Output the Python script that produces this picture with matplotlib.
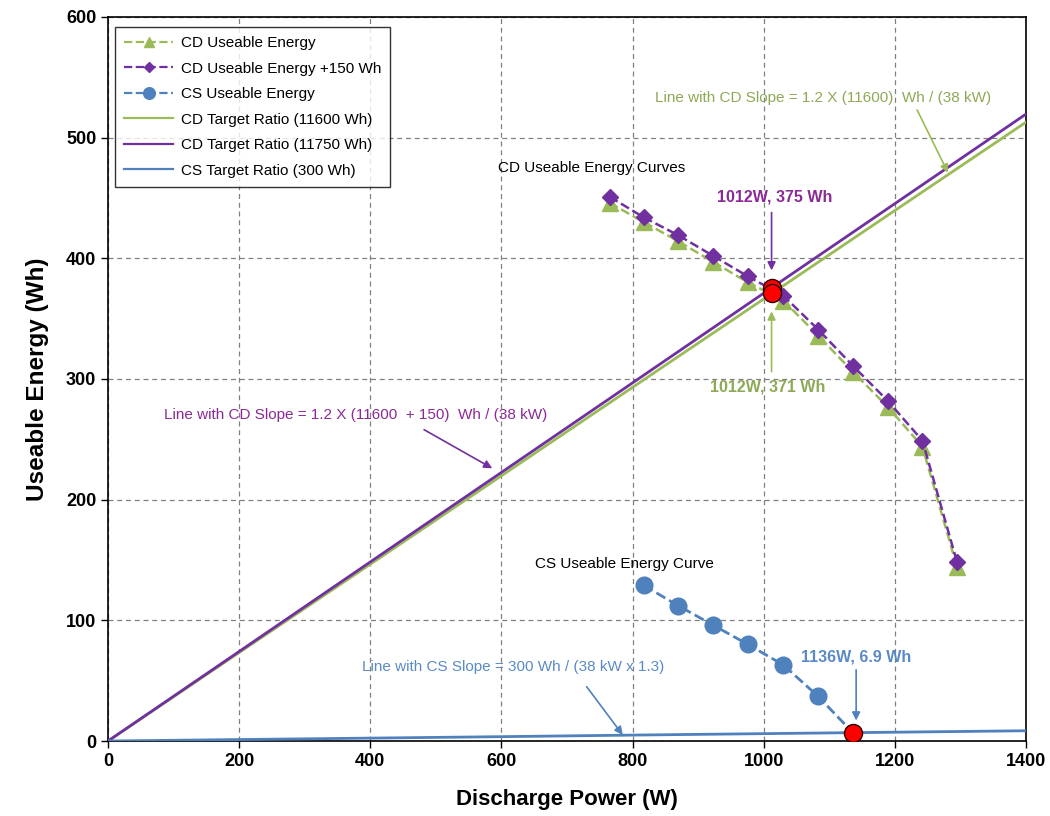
import matplotlib
matplotlib.use("Agg")
import matplotlib.pyplot as plt

plt.rcParams['font.family'] = ['Liberation Sans', 'DejaVu Sans']

# Discharge power sweep (W)
cd_power = [765, 817, 870, 923, 976, 1030, 1083, 1136, 1189, 1242, 1295]
cd_energy = [446, 430, 414, 397, 380, 365, 336, 306, 277, 244, 144]
cd_energy_plus = [451, 434, 419, 402, 385, 369, 341, 311, 282, 249, 148]

cs_power = [817, 870, 923, 976, 1030, 1083, 1136]
cs_energy = [129, 112, 96, 80, 63, 37, 6.9]

# Target-ratio lines
target_power = [0, 200, 400, 600, 800, 1000, 1200, 1400]
cd_target = [0, 73.3, 146.5, 219.8, 293.1, 366.3, 439.6, 512.8]
cd_target_plus = [0, 74.2, 148.4, 222.6, 296.8, 371.1, 445.3, 519.5]
cs_target = [0, 1.2, 2.4, 3.6, 4.9, 6.1, 7.3, 8.5]

# Crossing points
cross_power = [1012, 1012, 1136]
cross_energy = [375, 371, 6.9]

GREEN = '#9BBB59'
PURPLE = '#7030A0'
BLUE = '#4F81BD'
GREEN_TXT = '#8EA955'
PURPLE_TXT = '#8B2A96'
BLUE_TXT = '#5A8AC6'

fig = plt.figure(figsize=(10.5, 8.16), dpi=100)
ax = fig.add_axes([0.1029, 0.0919, 0.8742, 0.8873])

ax.plot(cd_power, cd_energy, ls='--', color=GREEN, lw=1.8, marker='^',
        ms=11, mfc=GREEN, mec=GREEN, label='CD Useable Energy', zorder=4)
ax.plot(cd_power, cd_energy_plus, ls='--', color=PURPLE, lw=1.8, marker='D',
        ms=8, mfc=PURPLE, mec=PURPLE, label='CD Useable Energy +150 Wh', zorder=5)
ax.plot(cs_power, cs_energy, ls='--', color=BLUE, lw=2, marker='o',
        ms=12, mfc=BLUE, mec=BLUE, label='CS Useable Energy', zorder=4)
ax.plot(target_power, cd_target, color=GREEN, lw=2,
        label='CD Target Ratio (11600 Wh)', zorder=3)
ax.plot(target_power, cd_target_plus, color=PURPLE, lw=2,
        label='CD Target Ratio (11750 Wh)', zorder=3)
ax.plot(target_power, cs_target, color=BLUE, lw=2,
        label='CS Target Ratio (300 Wh)', zorder=3)

ax.plot(cross_power, cross_energy, ls='none', marker='o', ms=13,
        mfc='#FF0000', mec='#300000', mew=1, zorder=6)

ax.set_xlim(0, 1400)
ax.set_ylim(0, 600)
ax.set_xticks(range(0, 1401, 200))
ax.set_yticks(range(0, 601, 100))
ax.grid(True, ls=(0, (4, 3)), color='#808080', lw=0.9)
ax.set_axisbelow(True)
for s in ax.spines.values():
    s.set_color('black')
    s.set_linewidth(1.2)
ax.tick_params(labelsize=13, length=5, width=1, direction='out')
for t in ax.get_xticklabels() + ax.get_yticklabels():
    t.set_fontweight('bold')

ax.set_xlabel('Discharge Power (W)', fontsize=16, fontweight='bold', labelpad=14)
ax.set_ylabel('Useable Energy (Wh)', fontsize=17.5, fontweight='bold', labelpad=12)

leg = ax.legend(loc='upper left', bbox_to_anchor=(0.0076, 0.986), fontsize=11,
                handlelength=3.2, handletextpad=0.5, frameon=True, fancybox=False,
                edgecolor='black', borderpad=0.6, labelspacing=0.75,
                borderaxespad=0, markerscale=0.7)
leg.get_frame().set_linewidth(1.0)
for line in leg.get_lines():
    line.set_linewidth(1.6)

arrow_kw = dict(arrowstyle='-|>', lw=1.2, mutation_scale=12, shrinkA=0, shrinkB=0)


def arrow(start, end, color):
    ax.annotate('', xy=end, xytext=start,
                arrowprops=dict(color=color, **arrow_kw), zorder=5)


# Curve titles
ax.text(738, 475, 'CD Useable Energy Curves', fontsize=11, color='black',
        ha='center', va='center')
ax.text(787, 147, 'CS Useable Energy Curve', fontsize=11, color='black',
        ha='center', va='center')

# Crossing labels
ax.text(1017, 451, '1012W, 375 Wh', fontsize=11.5, fontweight='bold',
        color=PURPLE_TXT, ha='center', va='center')
arrow((1012, 438), (1012, 390), PURPLE)
ax.text(1006, 293, '1012W, 371 Wh', fontsize=11.5, fontweight='bold',
        color=GREEN_TXT, ha='center', va='center')
arrow((1012, 306), (1012, 356), GREEN)
ax.text(1141, 70, '1136W, 6.9 Wh', fontsize=11.5, fontweight='bold',
        color=BLUE_TXT, ha='center', va='center')
arrow((1141, 59), (1141, 17), BLUE)

# Slope labels
ax.text(1090, 533, 'Line with CD Slope = 1.2 X (11600)  Wh / (38 kW)',
        fontsize=11, color=GREEN_TXT, ha='center', va='center')
arrow((1234, 523), (1281, 471), GREEN)
ax.text(378, 270, 'Line with CD Slope = 1.2 X (11600  + 150)  Wh / (38 kW)',
        fontsize=11, color=PURPLE_TXT, ha='center', va='center')
arrow((482, 258), (586, 226), PURPLE)
ax.text(618, 61, 'Line with CS Slope = 300 Wh / (38 kW x 1.3)',
        fontsize=11, color=BLUE_TXT, ha='center', va='center')
arrow((730, 45), (785, 5), BLUE)

fig.savefig('out.png', dpi=100)
